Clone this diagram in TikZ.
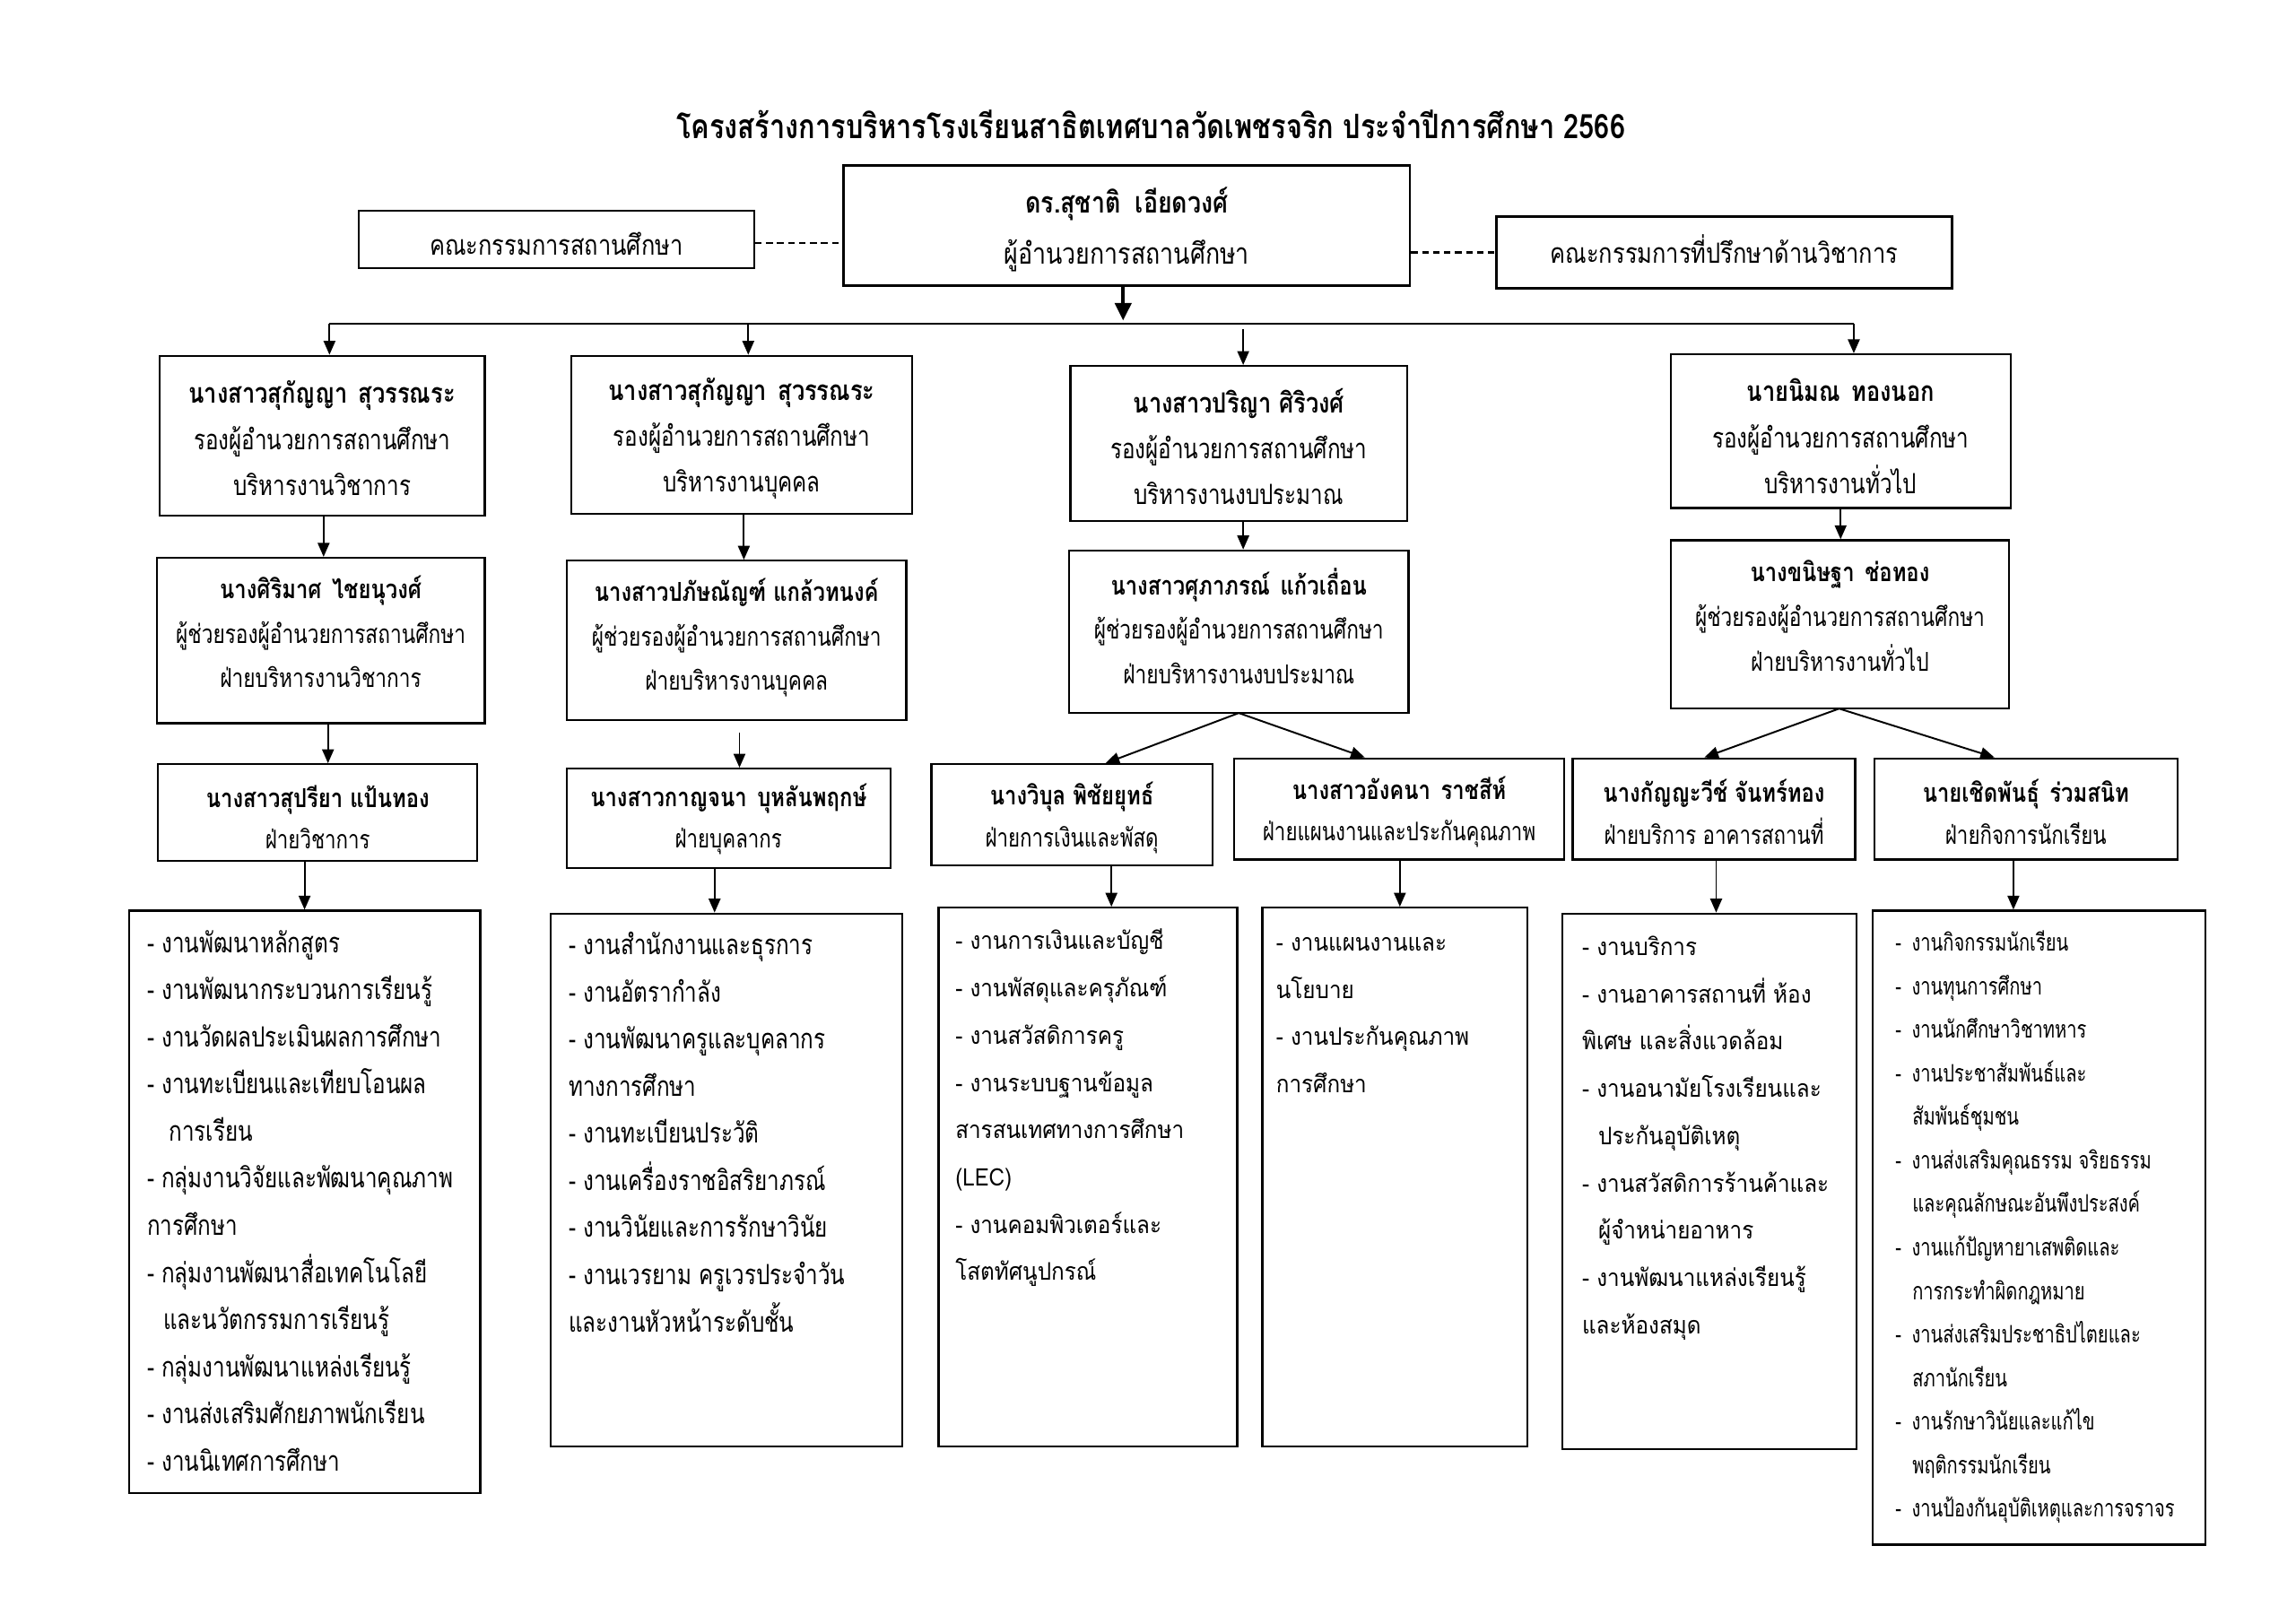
\documentclass[tikz,border=0pt]{standalone}
\usepackage{fontspec}
\newfontfamily\thc[Script=Thai,FakeStretch=0.82]{Loma}
\newfontfamily\thr[Script=Thai,FakeStretch=0.78]{Loma}
\newfontfamily\thm[Script=Thai,FakeStretch=0.9]{Loma}
\newfontfamily\ths[Script=Thai,FakeStretch=0.75]{Loma}
\usetikzlibrary{arrows.meta,calc}
\tikzset{
  box/.style={draw, line width=1.4pt, inner sep=0pt},
  txt/.style={inner sep=0pt, align=center},
  hdr/.style={txt, font=\thr\fontsize{19}{31.5}\selectfont},
  ast/.style={txt, font=\thr\fontsize{17.8}{30.5}\selectfont},
  sec/.style={txt, font=\thr\fontsize{17.5}{28.5}\selectfont},
  lstc/.style={inner sep=0pt, align=left, anchor=north west, font=\thr\fontsize{19}{32.2}\selectfont},
  lstn/.style={inner sep=0pt, align=left, anchor=north west, font=\thm\fontsize{16.5}{32.3}\selectfont},
  lsts/.style={inner sep=0pt, align=left, anchor=north west, font=\ths\fontsize{16.4}{29.75}\selectfont},
  arr/.style={-{Triangle[length=9.5pt,width=8pt]}, line width=1.2pt},
  bigarr/.style={-{Triangle[length=12pt,width=11pt]}, line width=2.6pt},
  dashline/.style={line width=1.4pt, dash pattern=on 4.5pt off 3pt}
}
% name, cx, cy, w, h, text style, text dy, text
\newcommand{\bx}[8]{\node[box, minimum width=#4pt, minimum height=#5pt] (#1) at (#2,#3) {};
  \node[#6] (#1t) at ($(#1.center)+(0,#7)$) {#8};}
\newcommand{\nm}[2][19]{{\thc\bfseries\fontsize{#1}{#1}\selectfont #2}}
\newcommand{\fl}{\rule{0pt}{20pt}}
\begin{document}
\begin{tikzpicture}[x=1pt,y=-1pt]
\useasboundingbox[fill=white] (0,0) rectangle (1568,1109);

\node[font=\thc\bfseries\fontsize{23}{27}\selectfont] (title) at (786,85) {โครงสร้างการบริหารโรงเรียนสาธิตเทศบาลวัดเพชรจริก ประจำปีการศึกษา 2566};

% top row
\bx{D}{769.5}{154}{387}{82}{txt, font=\thc\fontsize{20}{35}\selectfont}{2.5}{{\bfseries ดร.สุชาติ\hspace{0.5em}เอียดวงศ์}\\ ผู้อำนวยการสถานศึกษา}
\bx{K1}{380}{163.5}{270}{39}{txt, font=\thc\fontsize{19}{25}\selectfont}{3}{คณะกรรมการสถานศึกษา}
\bx{K2}{1177.5}{172.5}{311}{49}{txt, font=\thc\fontsize{19}{25}\selectfont}{-2.5}{คณะกรรมการที่ปรึกษาด้านวิชาการ}
\draw[dashline] (K1.east |- 0,166) -- (D.west |- 0,166);
\draw[dashline] (D.east |- K2.west) -- (K2.west);

% deputies
\bx{B1}{220}{297.5}{222}{109}{hdr}{2}{\nm{นางสาวสุกัญญา\hspace{0.4em}สุวรรณระ}\\ รองผู้อำนวยการสถานศึกษา\\ บริหารงานวิชาการ}
\bx{B2}{506.5}{297}{233}{108}{hdr}{2.5}{\nm{นางสาวสุกัญญา\hspace{0.4em}สุวรรณระ}\\ รองผู้อำนวยการสถานศึกษา\\ บริหารงานบุคคล}
\bx{B3}{846}{303}{230}{106}{hdr}{2}{\nm{นางสาวปริญา ศิริวงศ์}\\ รองผู้อำนวยการสถานศึกษา\\ บริหารงานงบประมาณ}
\bx{B4}{1257}{294.5}{232}{105}{hdr}{3.5}{\nm{นายนิมณ\hspace{0.4em}ทองนอก}\\ รองผู้อำนวยการสถานศึกษา\\ บริหารงานทั่วไป}

% assistants
\bx{A1}{219}{437.5}{224}{113}{ast}{-6}{\nm[17.8]{นางศิริมาศ\hspace{0.4em}ไชยนุวงศ์}\\ ผู้ช่วยรองผู้อำนวยการสถานศึกษา\\ ฝ่ายบริหารงานวิชาการ}
\bx{A2}{503}{437.5}{232}{109}{ast}{-2}{\nm[17.8]{นางสาวปภัษณัญฑ์ แกล้วทนงค์}\\ ผู้ช่วยรองผู้อำนวยการสถานศึกษา\\ ฝ่ายบริหารงานบุคคล}
\bx{A3}{846}{431.5}{232}{111}{ast}{-4}{\nm[17.8]{นางสาวศุภาภรณ์\hspace{0.4em}แก้วเถื่อน}\\ ผู้ช่วยรองผู้อำนวยการสถานศึกษา\\ ฝ่ายบริหารงานงบประมาณ}
\bx{A4}{1256.5}{426.5}{231}{115}{ast}{-6}{\nm[17.8]{นางขนิษฐา\hspace{0.4em}ช่อทอง}\\ ผู้ช่วยรองผู้อำนวยการสถานศึกษา\\ ฝ่ายบริหารงานทั่วไป}

% sections
\bx{S1}{217}{555}{218}{66}{sec}{3}{\nm[17.8]{นางสาวสุปรียา แป้นทอง}\\ ฝ่ายวิชาการ}
\bx{S2}{497.5}{559}{221}{68}{sec}{0.5}{\nm[17.8]{นางสาวกาญจนา\hspace{0.4em}บุหลันพฤกษ์}\\ ฝ่ายบุคลากร}
\bx{S3}{732}{556.5}{192}{69}{sec}{2}{\nm[17.8]{นางวิบุล พิชัยยุทธ์}\\ ฝ่ายการเงินและพัสดุ}
\bx{S4}{955.5}{552.5}{225}{69}{sec}{2}{\nm[17.8]{นางสาวอังคนา\hspace{0.4em}ราชสีห์}\\ ฝ่ายแผนงานและประกันคุณภาพ}
\bx{S5}{1170.5}{552.5}{193}{69}{sec}{2}{\nm[17.8]{นางกัญญะวีช์ จันทร์ทอง}\\ ฝ่ายบริการ อาคารสถานที่}
\bx{S6}{1383.5}{552.5}{207}{69}{sec}{2}{\nm[17.8]{นายเชิดพันธุ์\hspace{0.4em}ร่วมสนิท}\\ ฝ่ายกิจการนักเรียน}

% list boxes
\node[box, minimum width=240pt, minimum height=398pt] (L1) at (208,821) {};
\node[box, minimum width=240pt, minimum height=364pt] (L2) at (496,806) {};
\node[box, minimum width=204pt, minimum height=368pt] (L3) at (743,804) {};
\node[box, minimum width=181pt, minimum height=368pt] (L4) at (952.5,804) {};
\node[box, minimum width=201pt, minimum height=366pt] (L5) at (1167.5,807) {};
\node[box, minimum width=227pt, minimum height=433pt] (L6) at (1392.5,838.5) {};

\node[lstc] (L1t) at ($(L1.north west)+(13,9)$) {\fl- งานพัฒนาหลักสูตร\\ - งานพัฒนากระบวนการเรียนรู้\\ - งานวัดผลประเมินผลการศึกษา\\ - งานทะเบียนและเทียบโอนผล\\ \hspace*{15pt}การเรียน\\ - กลุ่มงานวิจัยและพัฒนาคุณภาพ\\ การศึกษา\\ - กลุ่มงานพัฒนาสื่อเทคโนโลยี\\ \hspace*{11pt}และนวัตกรรมการเรียนรู้\\ - กลุ่มงานพัฒนาแหล่งเรียนรู้\\ - งานส่งเสริมศักยภาพนักเรียน\\ - งานนิเทศการศึกษา};
\node[lstc] (L2t) at ($(L2.north west)+(13,8.5)$) {\fl- งานสำนักงานและธุรการ\\ - งานอัตรากำลัง\\ - งานพัฒนาครูและบุคลากร\\ ทางการศึกษา\\ - งานทะเบียนประวัติ\\ - งานเครื่องราชอิสริยาภรณ์\\ - งานวินัยและการรักษาวินัย\\ - งานเวรยาม ครูเวรประจำวัน\\ และงานหัวหน้าระดับชั้น};
\node[lstn] (L3t) at ($(L3.north west)+(12,9)$) {\fl- งานการเงินและบัญชี\\ - งานพัสดุและครุภัณฑ์\\ - งานสวัสดิการครู\\ - งานระบบฐานข้อมูล\\ สารสนเทศทางการศึกษา\\ (LEC)\\ - งานคอมพิวเตอร์และ\\ โสตทัศนูปกรณ์};
\node[lstn] (L4t) at ($(L4.north west)+(10,10)$) {\fl- งานแผนงานและ\\ นโยบาย\\ - งานประกันคุณภาพ\\ การศึกษา};
\node[lstn] (L5t) at ($(L5.north west)+(14,9)$) {\fl- งานบริการ\\ - งานอาคารสถานที่ ห้อง\\ พิเศษ และสิ่งแวดล้อม\\ - งานอนามัยโรงเรียนและ\\ \hspace*{11pt}ประกันอุบัติเหตุ\\ - งานสวัสดิการร้านค้าและ\\ \hspace*{11pt}ผู้จำหน่ายอาหาร\\ - งานพัฒนาแหล่งเรียนรู้\\ และห้องสมุด};
\node[lsts] (L6t) at ($(L6.north west)+(16,8)$) {\fl-\hspace{7pt}งานกิจกรรมนักเรียน\\ -\hspace{7pt}งานทุนการศึกษา\\ -\hspace{7pt}งานนักศึกษาวิชาทหาร\\ -\hspace{7pt}งานประชาสัมพันธ์และ\\ \hspace*{11.5pt}สัมพันธ์ชุมชน\\ -\hspace{7pt}งานส่งเสริมคุณธรรม จริยธรรม\\ \hspace*{11.5pt}และคุณลักษณะอันพึงประสงค์\\ -\hspace{7pt}งานแก้ปัญหายาเสพติดและ\\ \hspace*{11.5pt}การกระทำผิดกฎหมาย\\ -\hspace{7pt}งานส่งเสริมประชาธิปไตยและ\\ \hspace*{11.5pt}สภานักเรียน\\ -\hspace{7pt}งานรักษาวินัยและแก้ไข\\ \hspace*{11.5pt}พฤติกรรมนักเรียน\\ -\hspace{7pt}งานป้องกันอุบัติเหตุและการจราจร};

% connectors
\coordinate (busL) at (225,221);
\coordinate (busR) at (1266,221);
\coordinate (dx) at (767,0);
\coordinate (x2) at (511,0);
\coordinate (x3) at (849,0);
\draw[line width=1.2pt] (busL) -- (busR);
\draw[bigarr] (D.south -| dx) -- ($(busL -| dx)+(0,-2)$);
\draw[arr] (busL) -- (B1.north -| busL);
\draw[arr] (busL -| x2) -- (B2.north -| x2);
\draw[arr] ($(busL -| x3)+(0,4)$) -- (B3.north -| x3);
\draw[arr] (busR) -- (B4.north -| busR);

\coordinate (y1) at (221,0);
\coordinate (y2) at (508,0);
\coordinate (y3) at (849,0);
\coordinate (y4) at (1257,0);
\draw[arr] (B1.south -| y1) -- (A1.north -| y1);
\draw[arr] (B2.south -| y2) -- (A2.north -| y2);
\draw[arr] (B3.south -| y3) -- (A3.north -| y3);
\draw[arr] (B4.south -| y4) -- (A4.north -| y4);

\coordinate (z1) at (224,0);
\coordinate (z2) at (505,0);
\draw[arr] (A1.south -| z1) -- (S1.north -| z1);
\draw[arr] ($(A2.south -| z2)+(0,8)$) -- (S2.north -| z2);
\coordinate (a3b) at (846,487);
\coordinate (a4b) at (1256,484);
\coordinate (s3t) at (755,0);
\coordinate (s4t) at (932,0);
\coordinate (s5t) at (1164,0);
\coordinate (s6t) at (1362,0);
\draw[arr] (a3b) -- (S3.north -| s3t);
\draw[arr] (a3b) -- (S4.north -| s4t);
\draw[arr] (a4b) -- (S5.north -| s5t);
\draw[arr] (a4b) -- (S6.north -| s6t);

\coordinate (w1) at (208,0);
\coordinate (w2) at (488,0);
\coordinate (w3) at (759,0);
\coordinate (w4) at (956,0);
\coordinate (w5) at (1172,0);
\coordinate (w6) at (1375,0);
\draw[arr] (S1.south -| w1) -- (L1.north -| w1);
\draw[arr] (S2.south -| w2) -- (L2.north -| w2);
\draw[arr] (S3.south -| w3) -- (L3.north -| w3);
\draw[arr] (S4.south -| w4) -- (L4.north -| w4);
\draw[arr] (S5.south -| w5) -- (L5.north -| w5);
\draw[arr] (S6.south -| w6) -- (L6.north -| w6);
\end{tikzpicture}
\end{document}
